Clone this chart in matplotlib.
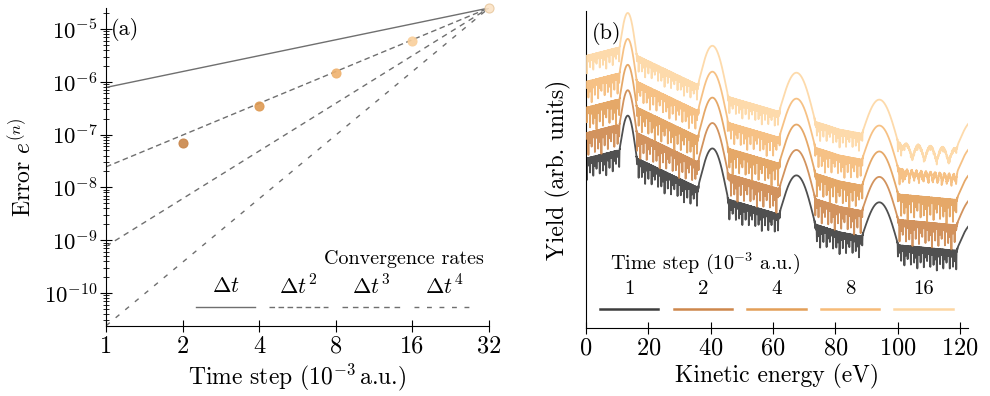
import numpy as np
import matplotlib
matplotlib.use("Agg")
import matplotlib.pyplot as plt
from matplotlib.ticker import LogLocator, FixedLocator, FixedFormatter, NullFormatter

plt.rcParams["font.family"] = "serif"
plt.rcParams["font.serif"] = ["cmr10", "DejaVu Serif"]
plt.rcParams["mathtext.fontset"] = "cm"
plt.rcParams["axes.formatter.use_mathtext"] = True
plt.rcParams["axes.unicode_minus"] = False

# ---------------- panel (a) data ----------------
time_steps = [1, 2, 4, 8, 16, 32]
point_steps = [2, 4, 8, 16, 32]
point_errors = [6.9e-8, 3.5e-7, 1.47e-6, 5.9e-6, 2.5e-5]
error_decades = [1e-10, 1e-9, 1e-8, 1e-7, 1e-6, 1e-5]
rate_orders = [1, 2, 3, 4]
rate_labels = [r"$\Delta t$", r"$\Delta t^2$", r"$\Delta t^3$", r"$\Delta t^4$"]
rate_dashes = [None, (4.0, 2.5), (4.0, 3.5), (3.5, 5.5)]
point_colors = ["#c9864a", "#de9a53", "#efb26f", "#f9cf9b", "#fbe3c6"]

# ---------------- panel (b) data ----------------
step_labels = ["1", "2", "4", "8", "16"]
step_colors = ["#3d3d3d", "#cd874c", "#e39f58", "#f6bb78", "#fdd6a2"]
curve_offsets = [0.0, 25.5, 51.0, 77.0, 103.0]

# background level of the lowest spectrum (energy in eV, yield in arb. units)
plateau_E = [0.0, 10.0, 11.5, 16.5, 36.5, 37.5, 44.5, 63.0, 73.5, 81.5, 90.0, 100.5, 117.4, 125.0]
plateau_y = [170, 178, 176, 170, 140, 138, 130, 113, 104, 96, 91, 83, 78, 76]
# photoelectron peaks: centre, top, half width
peak_E = [13.5, 40.8, 67.8, 94.4, 124.5]
peak_top = [213, 180, 153, 126, 105]
peak_half = [2.9, 5.0, 6.0, 6.0, 5.8]
# fringe depth pattern on the background
fringe_depth = [1.0, 0.35, 0.7, 0.2, 0.9, 0.45, 0.6, 0.25, 0.85, 0.3, 0.75, 0.5]
fringe_scale = [22, 25, 25, 22, 18]
fringe_period = 0.52
# slow modulation at high energy for the two largest steps
slow_start = [None, None, None, 100.8, 100.8]
slow_period = [0, 0, 0, 1.5, 3.9]
slow_amp = [0, 0, 0, 9, 14]


def spectrum(E, k):
    base = np.interp(E, plateau_E, plateau_y)
    hump = np.zeros_like(E)
    mask = np.ones_like(E)
    for c, top, h in zip(peak_E, peak_top, peak_half):
        x = (E - c) / h
        prof = np.clip(1 - x ** 2, 0, None) ** 1.3
        amp = top - np.interp(c, plateau_E, plateau_y)
        hump += amp * prof
        mask *= np.clip(1 - prof * 8, 0, 1)
    idx = np.floor(E / fringe_period).astype(int)
    frac = E / fringe_period - idx
    depth = np.array(fringe_depth)[(idx + 3 * k) % len(fringe_depth)] * fringe_scale[k]
    dips = depth * np.exp(-((frac - 0.5) ** 2) / (2 * 0.06 ** 2))
    ripple = 5.0 * np.abs(np.sin(np.pi * E / 0.13)) ** 2
    if slow_start[k] is not None:
        w = np.clip((E - slow_start[k]) / 1.5, 0, 1)
        bumps = slow_amp[k] * (1 - np.abs(np.sin(np.pi * (E - slow_start[k]) / slow_period[k])))
        dips = dips * (1 - 0.7 * w) + w * bumps
        ripple = ripple * (1 - 0.5 * w)
    return base + hump - mask * (dips + ripple) + curve_offsets[k]


fig = plt.figure(figsize=(9.9, 3.96), dpi=100)
ax_a = fig.add_axes([0.1071, 0.1768, 0.3868, 0.803])
ax_b = fig.add_axes([0.5919, 0.1717, 0.3859, 0.8005])

# ---------------- panel (a) ----------------
e_ref = point_errors[-1]
ref_x = np.array([time_steps[0], time_steps[-1]], dtype=float)
for order, dash in zip(rate_orders, rate_dashes):
    ref_y = e_ref * (ref_x / time_steps[-1]) ** order
    line, = ax_a.plot(ref_x, ref_y, color="#6f6f6f", lw=1.0,
                      ls="-" if dash is None else "--", zorder=2)
    if dash is not None:
        line.set_dashes(dash)

for s, e, c in zip(point_steps, point_errors, point_colors):
    ax_a.plot([s], [e], "o", ms=6.5, color=c, mec=c if s < 32 else "#e8c9a0",
              mew=0.8, alpha=0.9, zorder=3, clip_on=False)

ax_a.set_xscale("log", base=2)
ax_a.set_yscale("log")
ax_a.set_xlim(1, 32)
ax_a.set_ylim(2.36e-11, 2.5e-5)
ax_a.xaxis.set_major_locator(FixedLocator(time_steps))
ax_a.xaxis.set_major_formatter(FixedFormatter([str(t) for t in time_steps]))
ax_a.xaxis.set_minor_locator(FixedLocator([]))
ax_a.yaxis.set_major_locator(FixedLocator(error_decades))
ax_a.yaxis.set_minor_locator(LogLocator(base=10, subs=np.arange(2, 10), numticks=20))
ax_a.yaxis.set_minor_formatter(NullFormatter())
ax_a.tick_params(axis="x", which="major", direction="inout", length=8, width=0.8, labelsize=17.5, pad=3)
ax_a.tick_params(axis="y", which="major", direction="inout", length=8, width=0.8, labelsize=16.5, pad=2)
ax_a.tick_params(axis="y", which="minor", direction="inout", length=4, width=0.6)
for side in ["top", "right"]:
    ax_a.spines[side].set_visible(False)
ax_a.set_xlabel(r"Time step ($10^{-3}\,$a.u.)", fontsize=17, labelpad=3)
ax_a.set_ylabel(r"Error $e^{(n)}$", fontsize=17, labelpad=5)
ax_a.text(0.012, 0.97, "(a)", transform=ax_a.transAxes, fontsize=16, va="top", ha="left")

# manual legend, labels above the handles
ax_a.text(0.778, 0.211, "Convergence rates", transform=ax_a.transAxes, fontsize=14.5,
          ha="center", va="center")
for i, (lab, dash) in enumerate(zip(rate_labels, rate_dashes)):
    x0 = 0.235 + i * 0.19
    ln, = ax_a.plot([x0, x0 + 0.154], [0.06, 0.06], transform=ax_a.transAxes,
                    color="#6f6f6f", lw=1.0, ls="-" if dash is None else "--", clip_on=False)
    if dash is not None:
        ln.set_dashes(dash)
    ax_a.text(x0 + 0.077, 0.125, lab, transform=ax_a.transAxes, fontsize=16,
              ha="center", va="center")

# ---------------- panel (b) ----------------
E = np.linspace(0, 122.6, 6000)
for k in range(len(step_labels)):
    ax_b.plot(E, spectrum(E, k), color=step_colors[k], lw=1.3, alpha=0.9, zorder=2 + k)

ax_b.set_xlim(0, 122.6)
ax_b.set_ylim(0, 318)
ax_b.set_xticks([0, 20, 40, 60, 80, 100, 120])
ax_b.set_yticks([])
ax_b.tick_params(axis="x", direction="inout", length=8, width=0.8, labelsize=17.5, pad=3)
for side in ["top", "right"]:
    ax_b.spines[side].set_visible(False)
ax_b.set_xlabel("Kinetic energy (eV)", fontsize=17, labelpad=3)
ax_b.set_ylabel("Yield (arb. units)", fontsize=17, labelpad=11)
ax_b.text(0.015, 0.965, "(b)", transform=ax_b.transAxes, fontsize=16, va="top", ha="left")

ax_b.text(0.3115, 0.205, r"Time step ($10^{-3}$ a.u.)", transform=ax_b.transAxes,
          fontsize=14.5, ha="center", va="center")
for i, (lab, c) in enumerate(zip(step_labels, step_colors)):
    x0 = 0.0367 + i * 0.1925
    ax_b.plot([x0, x0 + 0.153], [0.06, 0.06], transform=ax_b.transAxes, color=c,
              lw=1.8, clip_on=False)
    ax_b.text(x0 + 0.0765, 0.122, lab, transform=ax_b.transAxes, fontsize=15,
              ha="center", va="center")

fig.savefig("out.png", dpi=100)
